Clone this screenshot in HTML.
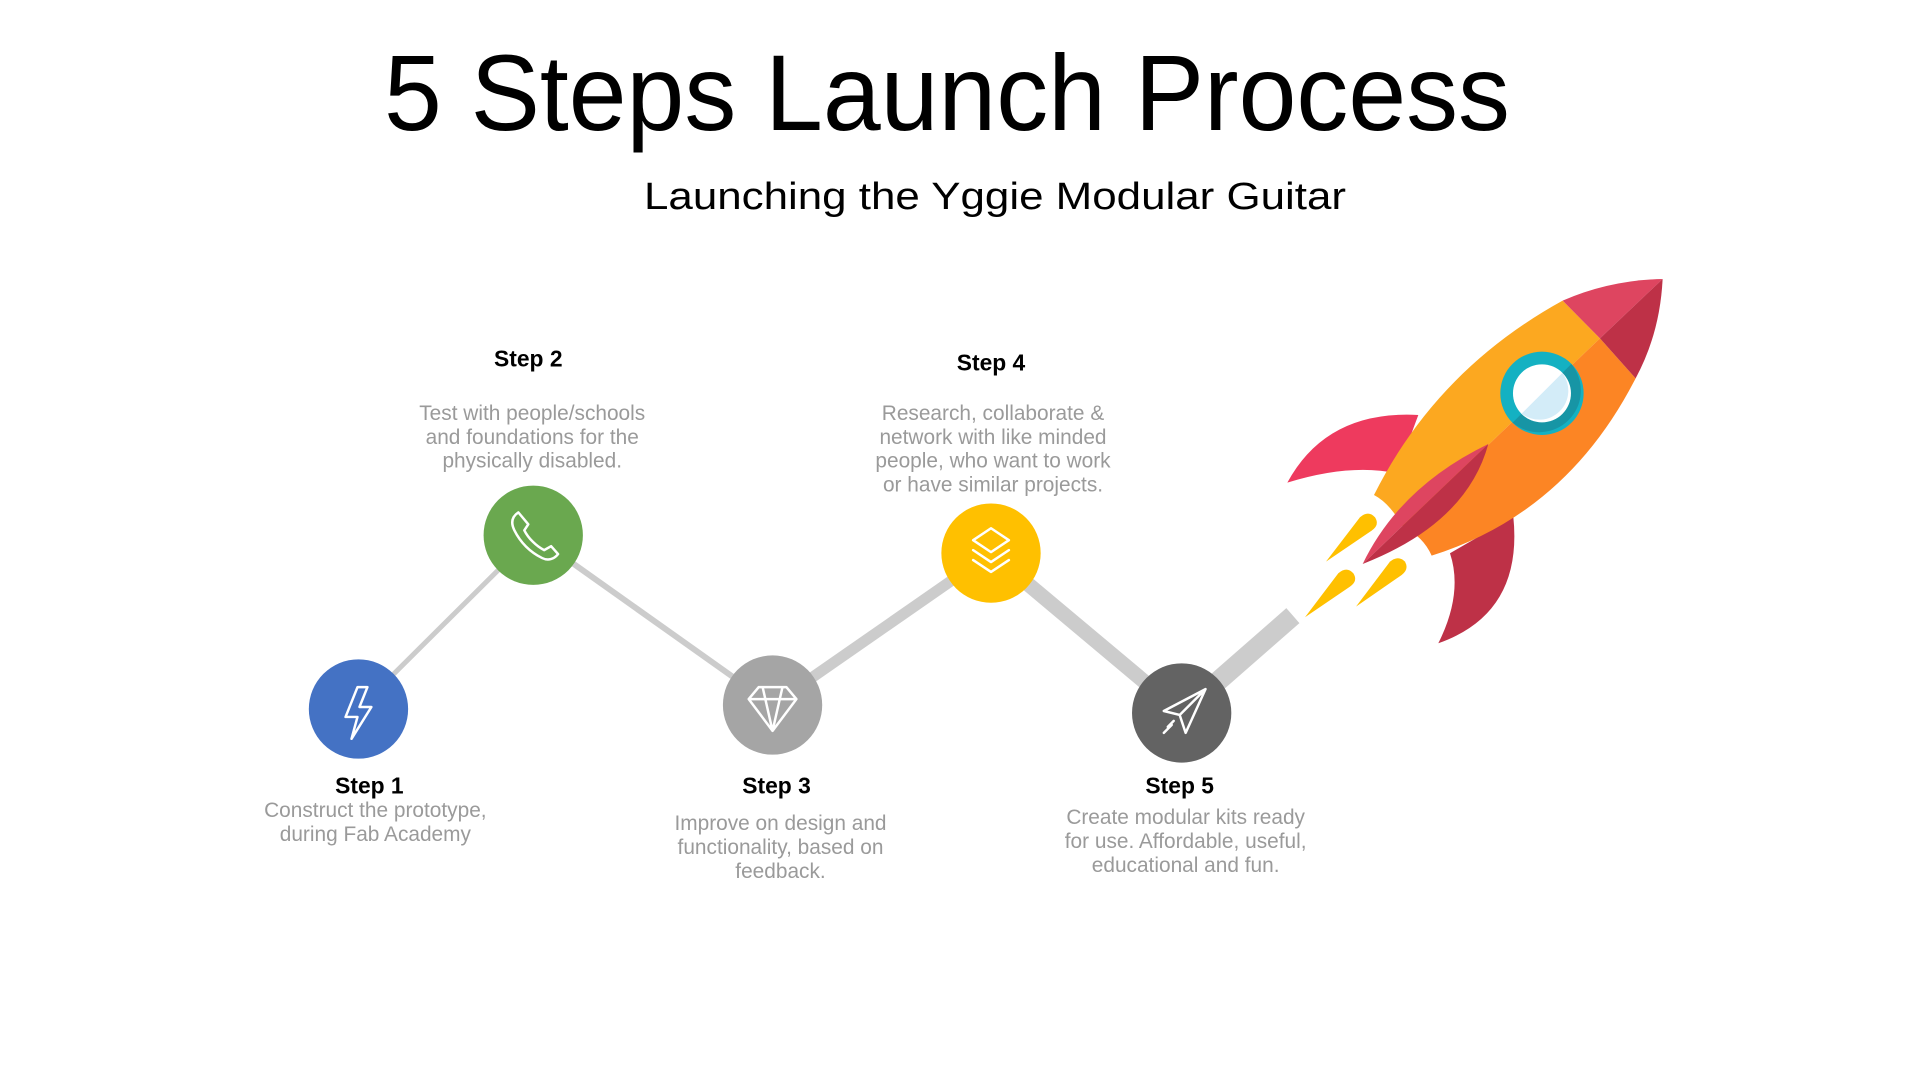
<!DOCTYPE html>
<html><head><meta charset="utf-8"><style>
html,body{margin:0;padding:0;background:#fff;}
svg{display:block;}
</style></head><body>
<svg width="1922" height="1082" viewBox="0 0 1922 1082" xmlns="http://www.w3.org/2000/svg" font-family="Liberation Sans, sans-serif">
<rect width="1922" height="1082" fill="#fff"/>
<text x="384" y="130" font-size="108" textLength="1126" lengthAdjust="spacingAndGlyphs" fill="#000">5 Steps Launch Process</text>
<text x="644" y="209" font-size="38" textLength="702" lengthAdjust="spacingAndGlyphs" fill="#000">Launching the Yggie Modular Guitar</text>

<g transform="scale(0.993)">
<!-- connectors -->
<g stroke="#cccccc" stroke-linecap="butt">
<line x1="361" y1="714" x2="537" y2="539" stroke-width="5"/>
<line x1="537" y1="539" x2="778" y2="710" stroke-width="6"/>
<line x1="778" y1="710" x2="998" y2="557" stroke-width="11"/>
<line x1="998" y1="557" x2="1190" y2="718" stroke-width="15"/>
<line x1="1190" y1="718" x2="1302" y2="620" stroke-width="20"/>
</g>

<!-- circles -->
<circle cx="361" cy="714" r="50" fill="#4472C4"/>
<circle cx="537" cy="539" r="50" fill="#6AA84F"/>
<circle cx="778" cy="710" r="50" fill="#A5A5A5"/>
<circle cx="998" cy="557" r="50" fill="#FFC000"/>
<circle cx="1190" cy="718" r="50" fill="#636363"/>

<!-- icons -->
<g fill="none" stroke="#fff" stroke-width="2.5" stroke-linejoin="round" stroke-linecap="round">
<path d="M360 692 L348 722 L360 722 L354 744 L374 712 L362 712 L370 692 Z"/>
<path d="M522 516 C516 520 514 526 518 534 C524 546 534 556 546 562 C552 565 558 563 562 558 L555 550 L548 554 C540 550 532 542 528 534 L532 528 Z"/>
<path d="M764 692 L792 692 L802 704 L778 736 L754 704 Z M754 704 L802 704 M768 692 L778 736 L788 692"/>
<path d="M998 532 L1016 544 L998 556 L980 544 Z M980 554 L998 566 L1016 554 M980 564 L998 576 L1016 564" />
<path d="M1214 694 L1172 716 L1188 720 L1194 738 Z M1188 720 L1214 694 M1176 732 L1182 726 M1172 738 L1180 730"/>
</g>

<!-- labels -->
<g text-anchor="middle">
<g font-weight="bold" font-size="23" fill="#000">
<text x="532" y="369">Step 2</text>
<text x="998" y="373">Step 4</text>
<text x="372" y="799">Step 1</text>
<text x="782" y="799">Step 3</text>
<text x="1188" y="799">Step 5</text>
</g>
<g font-size="21" fill="#9a9a9a">
<text x="536" y="423">Test with people/schools</text>
<text x="536" y="447">and foundations for the</text>
<text x="536" y="471">physically disabled.</text>
<text x="1000" y="423">Research, collaborate &amp;</text>
<text x="1000" y="447">network with like minded</text>
<text x="1000" y="471">people, who want to work</text>
<text x="1000" y="495">or have similar projects.</text>
<text x="378" y="823">Construct the prototype,</text>
<text x="378" y="847">during Fab Academy</text>
<text x="786" y="836">Improve on design and</text>
<text x="786" y="860">functionality, based on</text>
<text x="786" y="884">feedback.</text>
<text x="1194" y="830">Create modular kits ready</text>
<text x="1194" y="854">for use. Affordable, useful,</text>
<text x="1194" y="878">educational and fun.</text>
</g>
</g>
</g>

<!-- rocket -->
<g transform="translate(1250,260) scale(0.3333)">
<path d="M112 668 Q230 450 505 465 L440 640 Q300 610 112 668 Z" fill="#EE3A5E"/>
<path d="M565 1150 Q640 1000 600 880 L790 770 Q820 1060 565 1150 Z" fill="#BE3147"/>
<path d="M372 705 Q560 330 938 122 L1050 235 L458 800 Q420 730 372 705 Z" fill="#FCA820"/>
<path d="M1050 235 L1157 355 Q950 760 545 887 Q520 830 458 800 Z" fill="#FC8524"/>
<path d="M938 122 Q1080 60 1238 57 L1050 235 Z" fill="#DE4560"/>
<path d="M1238 57 Q1230 220 1157 355 L1050 235 Z" fill="#BE3147"/>
<circle cx="876" cy="400" r="125" fill="#14B1C2"/>
<path d="M964 312 A125 125 0 0 1 788 488 Z" fill="#1795A5"/>
<circle cx="876" cy="400" r="87" fill="#ffffff"/>
<path d="M937 339 A87 87 0 0 1 815 461 Z" fill="#D3ECF8"/>
<path d="M338 912 Q450 680 715 552 Z" fill="#DE4560"/>
<path d="M715 552 Q650 790 338 912 Z" fill="#BE3147"/>
<g fill="#FFC000">
<path d="M228 905 L330 772 Q355 750 375 772 Q390 795 365 812 Z"/>
<path d="M165 1072 L265 940 Q290 918 310 940 Q325 963 300 980 Z"/>
<path d="M318 1040 L420 905 Q445 885 465 905 Q478 928 455 945 Z"/>
</g>
</g>
</svg>
</body></html>
